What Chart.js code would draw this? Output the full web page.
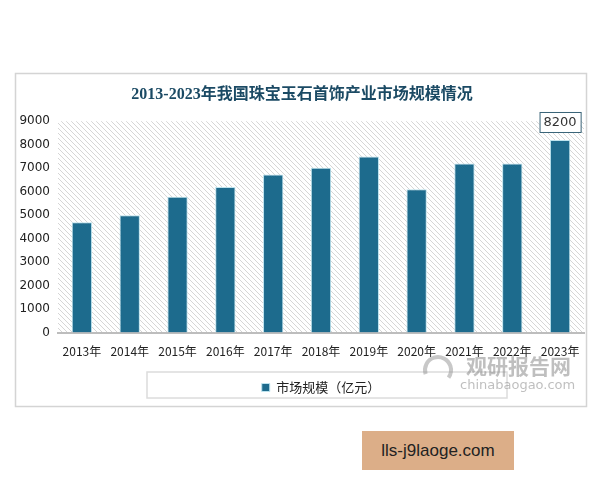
<!DOCTYPE html>
<html>
<head>
<meta charset="utf-8">
<script src="https://cdn.jsdelivr.net/npm/chart.js@4.4.0/dist/chart.umd.min.js"></script>
<style>
    body { margin: 0; background: #fff; }
    #wrap { position: relative; width: 600px; height: 480px; }
    #tag {
        position: absolute; left: 362px; top: 431px; width: 152px; height: 39px;
        background: #dcae88; color: #222; font: 17px "Liberation Sans", Arial, sans-serif;
        line-height: 39px; text-align: center;
    }
</style>
</head>
<body>
<div id="wrap">
    <canvas id="bar-chart" width="600" height="480"></canvas>
    <div id="tag">lls-j9laoge.com</div>
</div>
<script>
var anni = ["2013年", "2014年", "2015年", "2016年", "2017年", "2018年", "2019年", "2020年", "2021年", "2022年", "2023年"];
var valori = [4700, 5000, 5780, 6200, 6730, 7020, 7500, 6100, 7200, 7200, 8200];
var tickY = [0, 1000, 2000, 3000, 4000, 5000, 6000, 7000, 8000, 9000];

var fontCn = "'Noto Sans CJK SC', sans-serif";

// sfondo a righe diagonali
var pat = document.createElement('canvas');
pat.width = 5; pat.height = 5;
var pc = pat.getContext('2d');
pc.fillStyle = '#ffffff';
pc.fillRect(0, 0, 5, 5);
pc.strokeStyle = '#d6d6d6';
pc.lineWidth = 1;
pc.beginPath();
pc.moveTo(0, 0); pc.lineTo(5, 5);
pc.moveTo(-1, 4); pc.lineTo(1, 6);
pc.moveTo(4, -1); pc.lineTo(6, 1);
pc.stroke();

var cornice = {
    id: 'cornice',
    beforeDraw: function (chart) {
        var c = chart.ctx;
        var a = chart.chartArea;
        c.save();
        c.strokeStyle = '#d4d4d4';
        c.lineWidth = 1.5;
        c.strokeRect(15.5, 73.5, 571, 333);
        c.fillStyle = c.createPattern(pat, 'repeat');
        c.fillRect(a.left, a.top, a.right - a.left, a.bottom - a.top);
        c.restore();
    },
    afterDraw: function (chart) {
        var c = chart.ctx;
        c.save();
        // riquadro legenda
        c.strokeStyle = '#dcdcdc';
        c.lineWidth = 1.5;
        c.strokeRect(147, 372, 360, 26);
        // etichetta ultimo valore
        var meta = chart.getDatasetMeta(0);
        var last = meta.data[meta.data.length - 1];
        var txt = String(valori[valori.length - 1]);
        c.font = "13px 'DejaVu Sans', sans-serif";
        var w = c.measureText(txt).width + 8;
        c.fillStyle = '#fff';
        c.fillRect(last.x - w / 2, last.y - 28, w, 20);
        c.strokeStyle = '#3a6478';
        c.lineWidth = 1;
        c.strokeRect(last.x - w / 2 + 0.5, last.y - 27.5, w, 20);
        c.fillStyle = '#333';
        c.textAlign = 'center';
        c.textBaseline = 'middle';
        c.fillText(txt, last.x, last.y - 17);
        // filigrana
        c.globalAlpha = 0.55;
        c.fillStyle = '#8a8a8a';
        c.textAlign = 'left';
        c.textBaseline = 'alphabetic';
        c.font = "bold 21px " + fontCn;
        c.fillText('观研报告网', 466, 374);
        c.font = "13px 'DejaVu Sans', sans-serif";
        c.fillText('chinabaogao.com', 460, 389);
        c.lineWidth = 4;
        c.strokeStyle = '#9a9a9a';
        c.beginPath();
        c.arc(438, 370, 13, Math.PI * 0.9, Math.PI * 2.2);
        c.stroke();
        c.restore();
    }
};

var ctx = document.getElementById('bar-chart');
var chart = new Chart(ctx, {
    type: 'bar',
    data: {
        labels: anni,
        datasets: [{
            label: '市场规模（亿元）',
            data: valori,
            backgroundColor: '#1d6b8d',
            borderColor: '#bde3ee',
            borderWidth: 1,
            barPercentage: 0.85,
            categoryPercentage: 0.5
        }]
    },
    options: {
        responsive: false,
        animation: false,
        layout: { padding: { left: 20, right: 16, top: 85, bottom: 76 } },
        plugins: {
            title: {
                display: true,
                text: '2013-2023年我国珠宝玉石首饰产业市场规模情况',
                color: '#1b4a64',
                font: { family: "'Liberation Serif', 'Noto Sans CJK SC', serif", size: 16, weight: 'bold' },
                padding: { top: 0, bottom: 17 }
            },
            legend: {
                position: 'bottom',
                fullSize: false,
                labels: {
                    color: '#222',
                    font: { family: fontCn, size: 13 },
                    boxWidth: 8,
                    boxHeight: 8,
                    padding: 10
                }
            },
            tooltip: { enabled: false }
        },
        scales: {
            x: {
                grid: { display: false, drawTicks: false },
                border: { color: '#bdbdbd', width: 2 },
                ticks: { color: '#222', font: { family: fontCn, size: 12 }, padding: 12, maxRotation: 0, autoSkip: false }
            },
            y: {
                min: 0,
                max: 9000,
                afterBuildTicks: function (axis) {
                    axis.ticks = tickY.map(function (v) { return { value: v }; });
                },
                afterFit: function (axis) { axis.width = 38; },
                grid: { display: false, drawTicks: false },
                border: { display: false },
                ticks: {
                    color: '#222',
                    font: { family: "'DejaVu Sans', sans-serif", size: 12 },
                    padding: 8,
                    callback: function (v) { return String(v); }
                }
            }
        }
    },
    plugins: [cornice]
});
</script>
</body>
</html>
